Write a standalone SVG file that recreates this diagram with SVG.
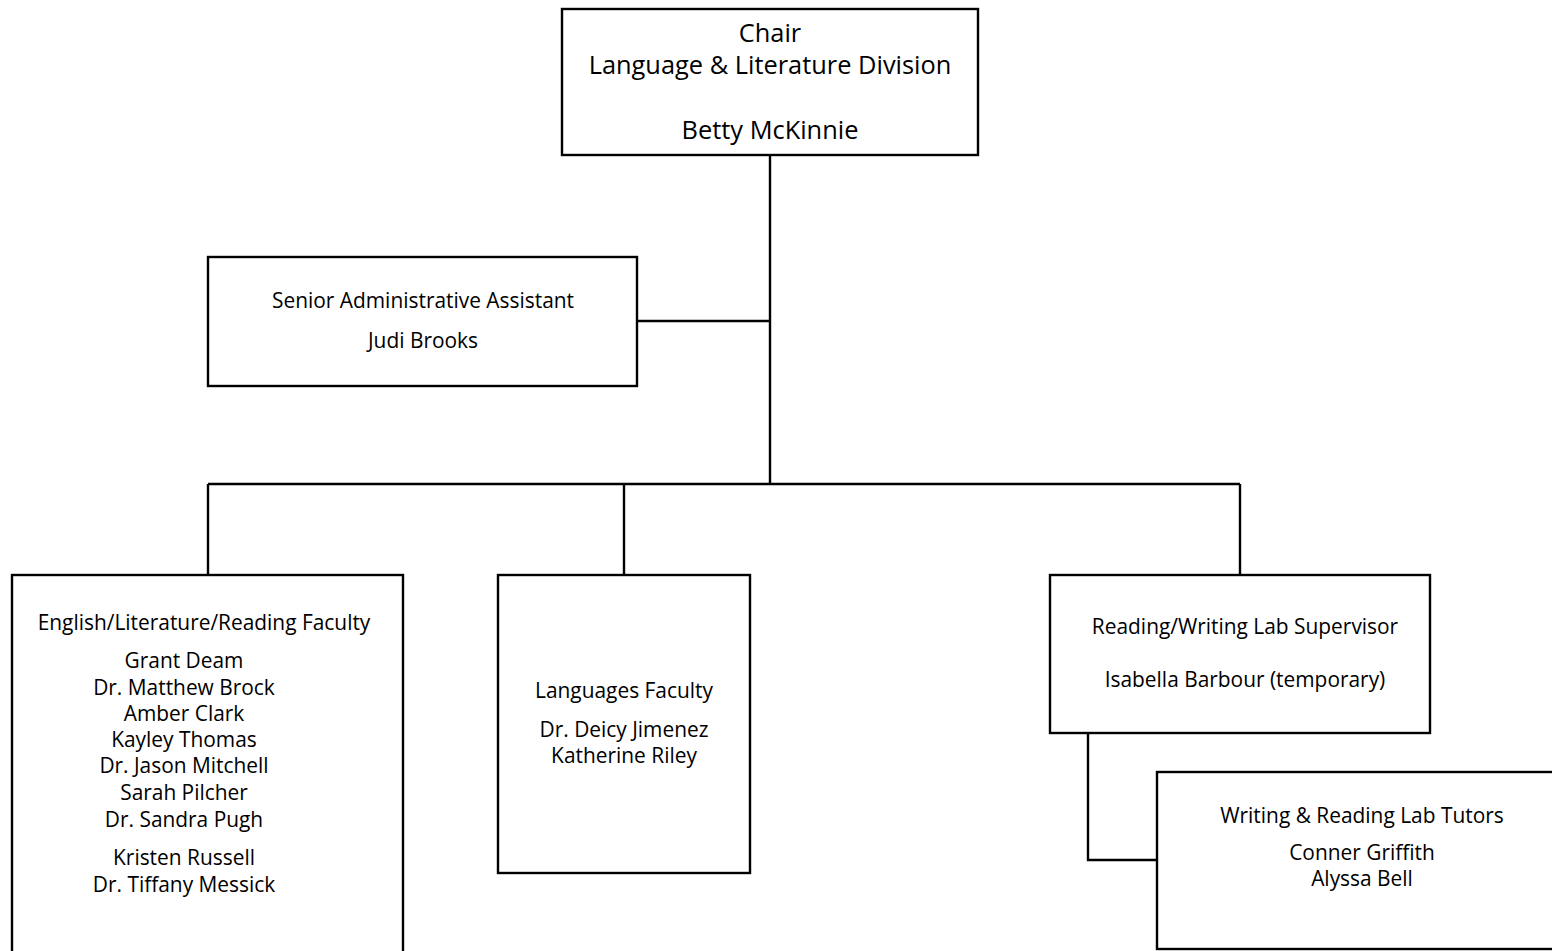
<svg xmlns="http://www.w3.org/2000/svg" width="1552" height="951" viewBox="0 0 1552 951">
<style>
.box{fill:#fff;stroke:#000;stroke-width:2.4}
.ln{fill:none;stroke:#000;stroke-width:2.4}
text{font-family:"Open Sans","Noto Sans",sans-serif;fill:#000;text-anchor:middle}
.big{font-size:25.4px}
.sm{font-size:20.9px}
</style>
<rect width="1552" height="951" fill="#fff"/>
<g id="connectors">
<path class="ln" d="M770 156V484"/>
<path class="ln" d="M637 321H770"/>
<path class="ln" d="M208 484H1240"/>
<path class="ln" d="M208 484V574"/>
<path class="ln" d="M624 484V574"/>
<path class="ln" d="M1240 484V574"/>
<path class="ln" d="M1088 733V860H1157"/>
</g>
<g id="chair">
<rect class="box" x="562" y="9" width="416" height="146"/>
<text class="big" x="770" y="42">Chair</text>
<text class="big" x="770" y="74">Language &amp; Literature Division</text>
<text class="big" x="770" y="139">Betty McKinnie</text>
</g>
<g id="admin">
<rect class="box" x="208" y="257" width="429" height="129"/>
<text class="sm" x="423" y="308">Senior Administrative Assistant</text>
<text class="sm" x="423" y="348">Judi Brooks</text>
</g>
<g id="english">
<rect class="box" x="12" y="575" width="391" height="390"/>
<text class="sm" x="204" y="630">English/Literature/Reading Faculty</text>
<text class="sm" x="184" y="668">Grant Deam</text>
<text class="sm" x="184" y="695">Dr. Matthew Brock</text>
<text class="sm" x="184" y="721">Amber Clark</text>
<text class="sm" x="184" y="747">Kayley Thomas</text>
<text class="sm" x="184" y="773">Dr. Jason Mitchell</text>
<text class="sm" x="184" y="800">Sarah Pilcher</text>
<text class="sm" x="184" y="827">Dr. Sandra Pugh</text>
<text class="sm" x="184" y="865">Kristen Russell</text>
<text class="sm" x="184" y="892">Dr. Tiffany Messick</text>
</g>
<g id="languages">
<rect class="box" x="498" y="575" width="252" height="298"/>
<text class="sm" x="624" y="698">Languages Faculty</text>
<text class="sm" x="624" y="737">Dr. Deicy Jimenez</text>
<text class="sm" x="624" y="763">Katherine Riley</text>
</g>
<g id="supervisor">
<rect class="box" x="1050" y="575" width="380" height="158"/>
<text class="sm" x="1245" y="634">Reading/Writing Lab Supervisor</text>
<text class="sm" x="1245" y="687">Isabella Barbour (temporary)</text>
</g>
<g id="tutors">
<rect class="box" x="1157" y="772" width="420" height="177"/>
<text class="sm" x="1362" y="823">Writing &amp; Reading Lab Tutors</text>
<text class="sm" x="1362" y="860">Conner Griffith</text>
<text class="sm" x="1362" y="886">Alyssa Bell</text>
</g>
</svg>
